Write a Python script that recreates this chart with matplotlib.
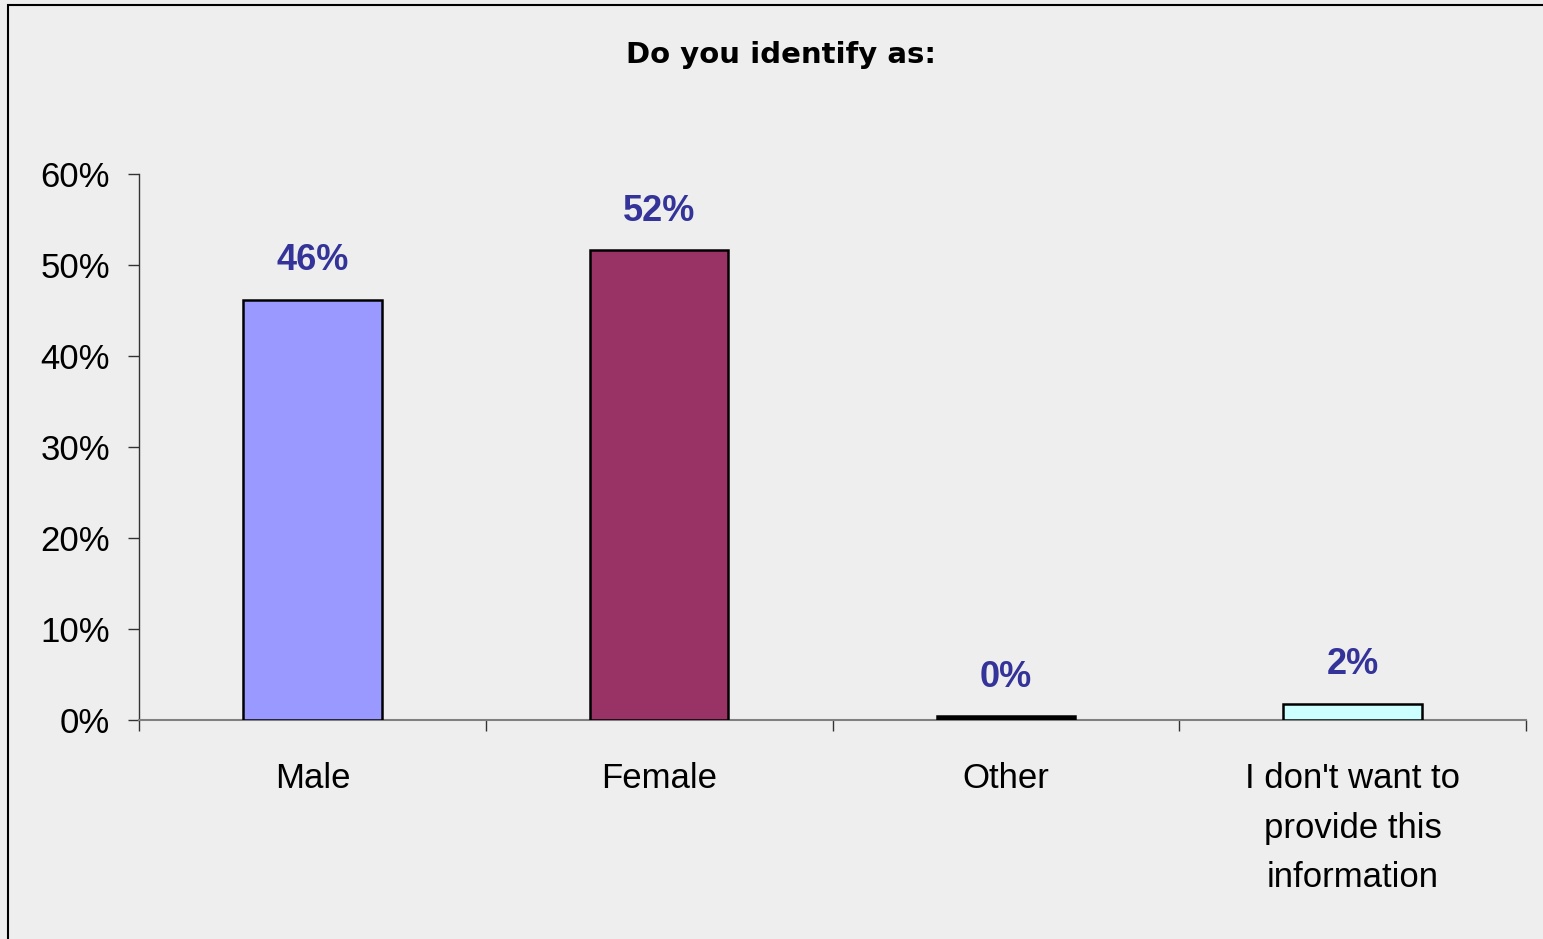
"""Столбчатая диаграмма: Do you identify as:"""
import matplotlib.pyplot as plt
from matplotlib.patches import Rectangle

categories = ["Male", "Female", "Other", "I don't want to\nprovide this\ninformation"]
values = [46.2, 51.6, 0.4, 1.8]
labels = ["46%", "52%", "0%", "2%"]
colors = ["#9999FF", "#993366", "#000000", "#CCFFFF"]
y_ticks = [0, 10, 20, 30, 40, 50, 60]

plt.rcParams["font.family"] = ["Liberation Sans", "DejaVu Sans"]

fig = plt.figure(figsize=(15.43, 9.39), dpi=100)
fig.patch.set_facecolor("#EEEEEE")
ax = fig.add_axes([139 / 1543, 1 - 720 / 939, (1526 - 139) / 1543, (720 - 174) / 939])
ax.set_facecolor("#EEEEEE")

# Рамка вокруг всей картинки
fig.patches.append(Rectangle((8 / 1543, -0.1), 1.2, 1 - 5 / 939 + 0.1,
                             transform=fig.transFigure, fill=False,
                             edgecolor="black", linewidth=1.5))

x = list(range(len(categories)))
ax.bar(x, values, width=0.4, color=colors, edgecolor="black", linewidth=1.8, zorder=3)

# Подписи значений над столбцами
for xi, v, lab in zip(x, values, labels):
    ax.annotate(lab, (xi, v), xytext=(0, 21), textcoords="offset points",
                ha="center", va="baseline", fontsize=26, fontweight="bold",
                color="#333399")

ax.set_xlim(-0.5, len(categories) - 0.5)
ax.set_ylim(0, 60)
ax.set_yticks(y_ticks)
ax.set_yticklabels([f"{t}%" for t in y_ticks], fontsize=25)
ax.set_xticks(x)
ax.set_xticklabels(categories, fontsize=25, linespacing=1.65, va="top")
ax.tick_params(axis="x", length=0, pad=30)
ax.tick_params(axis="y", length=8, width=1, color="#333333", pad=13)

# Засечки между категориями
ax.set_xticks([i - 0.5 for i in range(len(categories) + 1)], minor=True)
ax.tick_params(axis="x", which="minor", length=8, width=1, color="#333333")

for side in ["top", "right"]:
    ax.spines[side].set_visible(False)
ax.spines["left"].set_color("#333333")
ax.spines["bottom"].set_color("#808080")
ax.spines["left"].set_linewidth(1)
ax.spines["bottom"].set_linewidth(1.5)

fig.text(781 / 1543, 1 - 55 / 939, "Do you identify as:", ha="center", va="center",
         fontsize=21, family="DejaVu Sans", fontweight="bold")

fig.savefig("out.png", dpi=100, facecolor=fig.get_facecolor())
